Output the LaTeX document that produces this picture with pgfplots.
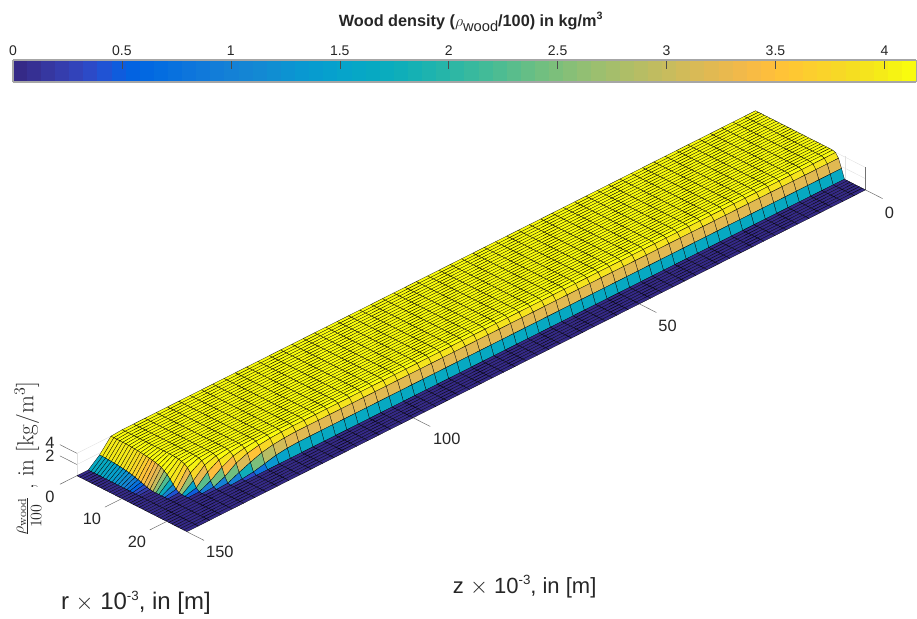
\documentclass[border=0pt]{standalone}
\usepackage{pgfplots}
\pgfplotsset{compat=1.18}
\usepackage{fontspec}
\setsansfont{Liberation Sans}
\renewcommand{\familydefault}{\sfdefault}
\definecolor{tickc}{rgb}{0.15,0.15,0.15}
\pgfplotsset{colormap={parula}{
rgb=(0.2081,0.1663,0.5292) rgb=(0.2116,0.1898,0.5777) rgb=(0.2123,0.2138,0.6270) rgb=(0.2081,0.2386,0.6771)
rgb=(0.1959,0.2645,0.7279) rgb=(0.1707,0.2919,0.7792) rgb=(0.1253,0.3242,0.8303) rgb=(0.0591,0.3598,0.8683)
rgb=(0.0117,0.3875,0.8820) rgb=(0.0060,0.4086,0.8828) rgb=(0.0165,0.4266,0.8786) rgb=(0.0329,0.4430,0.8720)
rgb=(0.0498,0.4586,0.8641) rgb=(0.0629,0.4737,0.8554) rgb=(0.0723,0.4887,0.8467) rgb=(0.0779,0.5040,0.8384)
rgb=(0.0793,0.5200,0.8312) rgb=(0.0749,0.5375,0.8263) rgb=(0.0641,0.5570,0.8240) rgb=(0.0488,0.5772,0.8228)
rgb=(0.0343,0.5966,0.8199) rgb=(0.0265,0.6137,0.8135) rgb=(0.0239,0.6287,0.8038) rgb=(0.0231,0.6418,0.7913)
rgb=(0.0228,0.6535,0.7768) rgb=(0.0267,0.6642,0.7607) rgb=(0.0384,0.6743,0.7436) rgb=(0.0590,0.6838,0.7254)
rgb=(0.0843,0.6928,0.7062) rgb=(0.1133,0.7015,0.6859) rgb=(0.1453,0.7098,0.6646) rgb=(0.1801,0.7177,0.6424)
rgb=(0.2178,0.7250,0.6193) rgb=(0.2586,0.7317,0.5954) rgb=(0.3022,0.7376,0.5712) rgb=(0.3482,0.7424,0.5473)
rgb=(0.3953,0.7459,0.5244) rgb=(0.4420,0.7481,0.5033) rgb=(0.4871,0.7491,0.4840) rgb=(0.5300,0.7491,0.4661)
rgb=(0.5709,0.7485,0.4494) rgb=(0.6099,0.7473,0.4337) rgb=(0.6473,0.7456,0.4188) rgb=(0.6834,0.7435,0.4044)
rgb=(0.7184,0.7411,0.3905) rgb=(0.7525,0.7384,0.3768) rgb=(0.7858,0.7356,0.3633) rgb=(0.8185,0.7327,0.3498)
rgb=(0.8507,0.7299,0.3360) rgb=(0.8824,0.7274,0.3217) rgb=(0.9139,0.7258,0.3063) rgb=(0.9450,0.7261,0.2886)
rgb=(0.9739,0.7314,0.2666) rgb=(0.9938,0.7455,0.2403) rgb=(0.9990,0.7653,0.2164) rgb=(0.9955,0.7861,0.1967)
rgb=(0.9880,0.8066,0.1794) rgb=(0.9789,0.8271,0.1633) rgb=(0.9697,0.8481,0.1475) rgb=(0.9626,0.8705,0.1309)
rgb=(0.9589,0.8949,0.1132) rgb=(0.9598,0.9218,0.0948) rgb=(0.9661,0.9514,0.0755) rgb=(0.9763,0.9831,0.0538)
}}
% plateau density, r = 0 ... 9.9
\def\A#1{(#1,0,4.147)(#1,0.66,4.147)(#1,1.32,4.147)(#1,1.98,4.147)(#1,2.64,4.147)(#1,3.3,4.147)(#1,3.96,4.147)(#1,4.62,4.147)(#1,5.28,4.147)(#1,5.94,4.147)(#1,6.6,4.147)(#1,7.26,4.147)(#1,7.92,4.147)(#1,8.58,4.147)(#1,9.24,4.147)(#1,9.9,4.147)}
% plateau density, r = 10.56 ... 16.5
\def\B#1{(#1,10.56,4.147)(#1,11.22,4.147)(#1,11.88,4.147)(#1,12.54,4.147)(#1,13.2,4.147)(#1,13.86,4.147)(#1,14.52,4.147)(#1,15.18,4.147)(#1,15.84,4.147)(#1,16.5,4.147)}
% shoulder r = 17.16 ... 19.14
\def\C#1{(#1,17.16,4.12)(#1,17.82,3.95)(#1,18.48,3.2)(#1,19.14,1.65)}
% zero band r = 19.8 ... 24.5
\def\Z#1{(#1,19.8,0)(#1,20.46,0)(#1,21.12,0)(#1,21.78,0)(#1,22.44,0)(#1,23.1,0)(#1,23.76,0)(#1,24.5,0)}
\def\O#1{(#1,0,0)(#1,0.66,0)(#1,1.32,0)(#1,1.98,0)(#1,2.64,0)(#1,3.3,0)(#1,3.96,0)(#1,4.62,0)(#1,5.28,0)(#1,5.94,0)(#1,6.6,0)(#1,7.26,0)(#1,7.92,0)(#1,8.58,0)(#1,9.24,0)(#1,9.9,0)}
\def\Y#1{(#1,10.56,0)(#1,11.22,0)(#1,11.88,0)(#1,12.54,0)(#1,13.2,0)(#1,13.86,0)(#1,14.52,0)(#1,15.18,0)(#1,15.84,0)(#1,16.5,0)(#1,17.16,0)(#1,17.82,0)(#1,18.48,0)(#1,19.14,0)}
\def\I#1{\A{#1}\B{#1}\C{#1}\Z{#1}}
\edef\surfdata{%
\I{0}\I{2.5}\I{5}\I{7.5}\I{10}\I{12.5}\I{15}\I{17.5}\I{20}\I{22.5}\I{25}\I{27.5}\I{30}\I{32.5}\I{35}\I{37.5}\I{40}\I{42.5}\I{45}\I{47.5}%
\I{50}\I{52.5}\I{55}\I{57.5}\I{60}\I{62.5}\I{65}\I{67.5}\I{70}\I{72.5}\I{75}\I{77.5}\I{80}\I{82.5}\I{85}\I{87.5}\I{90}\I{92.5}\I{95}\I{97.5}%
\I{100}\I{102.5}\I{105}\I{107.5}\I{110}\I{112.5}\I{115}\I{117.5}\I{120}%
\A{122.5}\B{122.5}(122.5,17.16,4.13)(122.5,17.82,3.9)(122.5,18.48,3.1)(122.5,19.14,1.55)\Z{122.5}%
\A{125}\B{125}(125,17.16,4.1)(125,17.82,3.8)(125,18.48,2.9)(125,19.14,1.3)\Z{125}%
\A{127.5}(127.5,10.56,4.147)(127.5,11.22,4.147)(127.5,11.88,4.147)(127.5,12.54,4.147)(127.5,13.2,4.147)(127.5,13.86,4.147)(127.5,14.52,4.147)(127.5,15.18,4.147)(127.5,15.84,4.147)(127.5,16.5,4.14)(127.5,17.16,4.02)(127.5,17.82,3.55)(127.5,18.48,2.5)(127.5,19.14,0.8)\Z{127.5}%
\A{130}(130,10.56,4.147)(130,11.22,4.147)(130,11.88,4.147)(130,12.54,4.147)(130,13.2,4.147)(130,13.86,4.147)(130,14.52,4.147)(130,15.18,4.147)(130,15.84,4.147)(130,16.5,4.08)(130,17.16,3.8)(130,17.82,3.15)(130,18.48,1.8)(130,19.14,0.35)\Z{130}%
\A{132.5}(132.5,10.56,4.147)(132.5,11.22,4.147)(132.5,11.88,4.147)(132.5,12.54,4.147)(132.5,13.2,4.147)(132.5,13.86,4.147)(132.5,14.52,4.147)(132.5,15.18,4.147)(132.5,15.84,4.12)(132.5,16.5,3.9)(132.5,17.16,3.4)(132.5,17.82,2.4)(132.5,18.48,1)(132.5,19.14,0.1)\Z{132.5}%
\A{135}(135,10.56,4.147)(135,11.22,4.147)(135,11.88,4.147)(135,12.54,4.147)(135,13.2,4.147)(135,13.86,4.147)(135,14.52,4.14)(135,15.18,4.08)(135,15.84,3.9)(135,16.5,3.45)(135,17.16,2.4)(135,17.82,1)(135,18.48,0.1)(135,19.14,0)\Z{135}%
\A{137.5}(137.5,10.56,4.147)(137.5,11.22,4.147)(137.5,11.88,4.147)(137.5,12.54,4.14)(137.5,13.2,4.13)(137.5,13.86,4.1)(137.5,14.52,4.02)(137.5,15.18,3.8)(137.5,15.84,3.3)(137.5,16.5,2.3)(137.5,17.16,1)(137.5,17.82,0.15)(137.5,18.48,0)(137.5,19.14,0)\Z{137.5}%
\A{140}(140,10.56,4.14)(140,11.22,4.12)(140,11.88,4.08)(140,12.54,4)(140,13.2,3.9)(140,13.86,3.7)(140,14.52,3.3)(140,15.18,2.6)(140,15.84,1.5)(140,16.5,0.5)(140,17.16,0.05)(140,17.82,0)(140,18.48,0)(140,19.14,0)\Z{140}%
(142.5,0,4)(142.5,0.66,4)(142.5,1.32,4)(142.5,1.98,4)(142.5,2.64,4)(142.5,3.3,3.99)(142.5,3.96,3.97)(142.5,4.62,3.94)(142.5,5.28,3.9)(142.5,5.94,3.85)(142.5,6.6,3.79)(142.5,7.26,3.73)(142.5,7.92,3.65)(142.5,8.58,3.56)(142.5,9.24,3.47)(142.5,9.9,3.35)(142.5,10.56,3.2)(142.5,11.22,3)(142.5,11.88,2.65)(142.5,12.54,2.25)(142.5,13.2,1.7)(142.5,13.86,1.05)(142.5,14.52,0.45)(142.5,15.18,0.1)(142.5,15.84,0)(142.5,16.5,0)(142.5,17.16,0)(142.5,17.82,0)(142.5,18.48,0)(142.5,19.14,0)\Z{142.5}%
(145,0,1.68)(145,0.66,1.67)(145,1.32,1.65)(145,1.98,1.62)(145,2.64,1.58)(145,3.3,1.54)(145,3.96,1.49)(145,4.62,1.43)(145,5.28,1.36)(145,5.94,1.27)(145,6.6,1.17)(145,7.26,1.05)(145,7.92,0.92)(145,8.58,0.76)(145,9.24,0.58)(145,9.9,0.38)(145,10.56,0.2)(145,11.22,0.08)(145,11.88,0)(145,12.54,0)(145,13.2,0)(145,13.86,0)(145,14.52,0)(145,15.18,0)(145,15.84,0)(145,16.5,0)(145,17.16,0)(145,17.82,0)(145,18.48,0)(145,19.14,0)\Z{145}%
\O{147.5}\Y{147.5}\Z{147.5}\O{150}\Y{150}\Z{150}%
}
\newcommand\doplot[1]{\addplot3[surf,shader=flat corner,draw=black,line width=0.2pt,mesh/rows=38,mesh/cols=61,mesh/ordering=y varies,point meta=z] coordinates {#1};}
\begin{document}
\begin{tikzpicture}
\begin{scope}[x=0.75pt,y=-0.75pt]
\path[use as bounding box] (0,0) rectangle (917,619);
\end{scope}
\begin{axis}[
  at={(567pt,-100.5pt)},anchor=origin,
  x={(-3.395pt,-1.71pt)},y={(3.37pt,-1.715pt)},z={(0pt,4.2pt)},
  xmin=0,xmax=150,ymin=0,ymax=24.5,zmin=0,zmax=4.147,
  colormap name=parula,colormap access=piecewise constant,
  point meta min=0,point meta max=4.147,
  xtick={0,50,100,150},ytick={0,10,20},ztick={2,4},
  xticklabels={},yticklabels={},zticklabels={},
  grid=major,grid style={line width=0.3pt,black!12},
  major tick length=0pt,
  axis line style={draw=none},
  z axis line style={draw=black!55,line width=0.4pt},
  clip=false,
]
\expandafter\doplot\expandafter{\surfdata}
% tick marks
\addplot3[black!60,line width=0.35pt,forget plot] coordinates {(0,24.5,0)(0,28.3,0)};
\addplot3[black!60,line width=0.35pt,forget plot] coordinates {(50,24.5,0)(50,28.3,0)};
\addplot3[black!60,line width=0.35pt,forget plot] coordinates {(100,24.5,0)(100,28.3,0)};
\addplot3[black!60,line width=0.35pt,forget plot] coordinates {(150,24.5,0)(150,28.3,0)};
\addplot3[black!60,line width=0.35pt,forget plot] coordinates {(150,0,0)(153.75,0,0)};
\addplot3[black!60,line width=0.35pt,forget plot] coordinates {(150,10,0)(153.75,10,0)};
\addplot3[black!60,line width=0.35pt,forget plot] coordinates {(150,20,0)(153.75,20,0)};
\addplot3[black!60,line width=0.35pt,forget plot] coordinates {(150,0,2)(150,-3.8,2)};
\addplot3[black!60,line width=0.35pt,forget plot] coordinates {(150,0,4)(150,-3.8,4)};
\end{axis}
\begin{scope}[x=0.75pt,y=-0.75pt]
\pgfplotscolorbardrawstandalone[
  colormap name=parula,colormap access=piecewise constant,
  point meta min=0,point meta max=4.147,
  colorbar horizontal,colorbar sampled,
  colorbar style={at={(9.75pt,-53pt)},anchor=south west,width=678pt,height=16.5pt,samples=65,
  xtick={0,0.5,1,1.5,2,2.5,3,3.5,4},xticklabel pos=upper,xtick pos=upper,tick align=inside,major tick length=7pt,
  xticklabels={0,0.5,1,1.5,2,2.5,3,3.5,4},
  tick style={line width=0.35pt,black!70},axis line style={draw=black!35,line width=0.9pt},
  ytick=\empty,
  tick label style={font=\fontsize{10.5}{12}\selectfont,text=tickc},
  /pgf/number format/assume math mode=true},
]
\tikzset{tl/.style={text=tickc,font=\fontsize{12.3}{14}\selectfont,inner sep=0pt}}
\node[tl] at (890,213) {0};
\node[tl] at (668,326) {50};
\node[tl] at (447,439) {100};
\node[tl] at (220,552) {150};
\node[tl] at (50,497) {0};
\node[tl] at (92,519) {10};
\node[tl] at (137,542) {20};
\node[tl] at (50,443) {4};
\node[tl] at (50,456) {2};
\node[text=tickc,font=\fontsize{12.2}{14}\bfseries] at (471,22) {Wood density (\mbox{\large$\rho$}\raisebox{-3.5pt}{\mdseries\fontsize{11}{12}\selectfont wood}/100) in kg/m\raisebox{5pt}{\footnotesize 3}};
\node[text=tickc,font=\fontsize{16.5}{18}\selectfont] at (525,587) {z $\times$ 10\raisebox{6.5pt}{\normalsize -3}, in [m]};
\node[text=tickc,font=\fontsize{18}{20}\selectfont] at (136,603) {r $\times$ 10\raisebox{7pt}{\normalsize -3}, in [m]};
\node[text=tickc,rotate=90,font=\rmfamily\fontsize{17.4}{19}\selectfont] at (28,459) {$\frac{\rho_{\mathrm{wood}}}{100}$ , in [kg/m$^3$]};
\end{scope}
\end{tikzpicture}
\end{document}
